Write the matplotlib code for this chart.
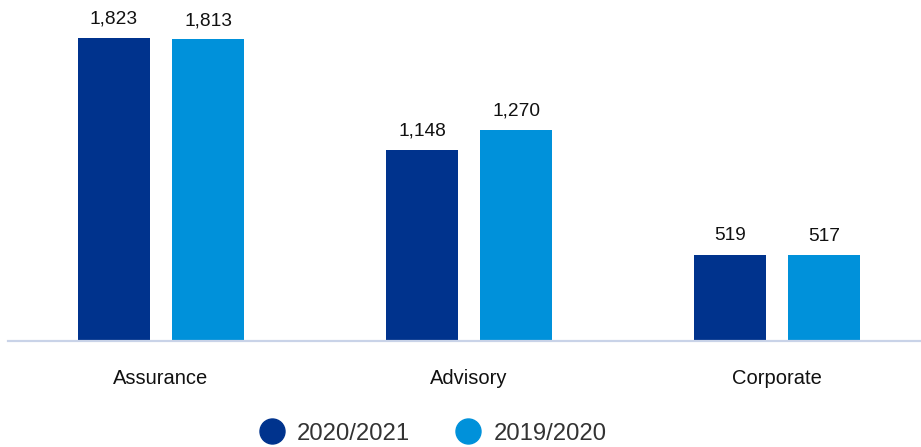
import numpy as np
import matplotlib.pyplot as plt
from matplotlib.lines import Line2D

plt.rcParams['font.family'] = ['Liberation Sans', 'DejaVu Sans']

# Headcount by business line
categories = ['Assurance', 'Advisory', 'Corporate']
fy2021 = [1823, 1148, 519]
fy2020 = [1813, 1270, 517]
series_names = ['2020/2021', '2019/2020']

dark_blue = '#00338D'
light_blue = '#0091DA'

fig = plt.figure(figsize=(9.21, 4.47), dpi=100)
ax = fig.add_axes([0, 106 / 447, 1, 341 / 447])

x = np.arange(len(categories))
width = 0.234
offset = 0.1526

b1 = ax.bar(x - offset, fy2021, width, color=dark_blue)
b2 = ax.bar(x + offset, fy2020, width, color=light_blue)

for bars in (b1, b2):
    ax.bar_label(bars, labels=[f'{v:,}' for v in bars.datavalues],
                 padding=7.5, fontsize=13.8, color='#111111')

ax.set_xlim(-161 / 308, 760 / 308)
ax.set_ylim(0, 2050)

# baseline
ax.axhline(0, xmin=8 / 921, xmax=1, color='#C9D3E8', linewidth=1.6, clip_on=False)

ax.set_xticks(x)
ax.set_xticklabels(categories, fontsize=14.5, color='#111111')
ax.tick_params(axis='x', length=0, pad=20.5)
ax.set_yticks([])
for side in ax.spines.values():
    side.set_visible(False)

handles = [Line2D([], [], linestyle='none', marker='o', markersize=18,
                  markerfacecolor=c, markeredgecolor=c)
           for c in (dark_blue, light_blue)]
fig.legend(handles, series_names, loc='center', ncol=2,
           bbox_to_anchor=(432 / 921, 1 - 433.5 / 447), frameon=False,
           fontsize=17.2, labelcolor='#333333', handletextpad=0.45,
           columnspacing=1.85, handlelength=1.2)

fig.savefig('out.png', dpi=100)
